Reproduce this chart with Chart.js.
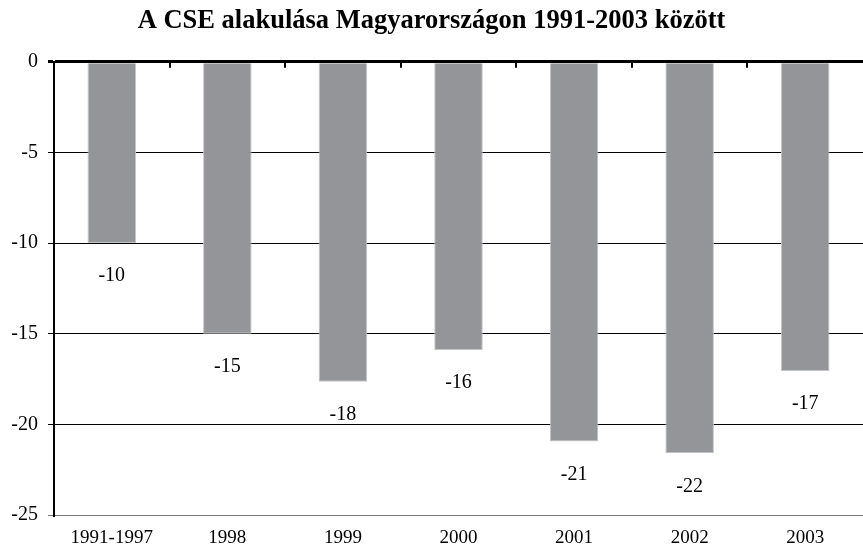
<!DOCTYPE html>
<html>
<head>
<meta charset="utf-8">
<script src="https://cdn.jsdelivr.net/npm/chart.js@4.4.0/dist/chart.umd.min.js"></script>
<style>
  html, body { margin: 0; padding: 0; background: #fff; }
  #wrap { width: 863px; height: 547px; }
</style>
</head>
<body>
<div id="wrap"><canvas id="chartId" width="863" height="547"></canvas></div>
<script>
const categories = ["1991-1997", "1998", "1999", "2000", "2001", "2002", "2003"];
const cseValues = [-10, -15, -17.65, -15.9, -20.95, -21.6, -17.05];
const valueLabels = ["-10", "-15", "-18", "-16", "-21", "-22", "-17"];
const yTicks = [0, -5, -10, -15, -20, -25];

const serif = "'Liberation Serif', 'Times New Roman', serif";

// tick marks on the zero line, between the categories
const zeroTicks = {
    id: "zeroTicks",
    afterDatasetsDraw(chart) {
        const x = chart.scales.x;
        const y = chart.scales.y;
        const ctx = chart.ctx;
        const top = y.getPixelForValue(0);
        const step = x.getPixelForValue(1) - x.getPixelForValue(0);
        ctx.save();
        ctx.strokeStyle = "#000";
        ctx.lineWidth = 2;
        for (let i = 1; i < categories.length; i++) {
            let px = Math.round(x.getPixelForValue(i) - step / 2);
            ctx.beginPath();
            ctx.moveTo(px, top);
            ctx.lineTo(px, top + 6);
            ctx.stroke();
        }
        ctx.restore();
    }
};

// value labels under each bar
const barLabels = {
    id: "barLabels",
    afterDatasetsDraw(chart) {
        const ctx = chart.ctx;
        const meta = chart.getDatasetMeta(0);
        ctx.save();
        ctx.font = "20px " + serif;
        ctx.fillStyle = "#000";
        ctx.textAlign = "center";
        ctx.textBaseline = "middle";
        meta.data.forEach((bar, i) => {
            ctx.fillText(valueLabels[i], bar.x, bar.y + 33);
        });
        ctx.restore();
    }
};

var chrt = document.getElementById("chartId").getContext("2d");
var chartId = new Chart(chrt, {
    type: 'bar',
    data: {
        labels: categories,
        datasets: [{
            label: "CSE",
            data: cseValues,
            backgroundColor: '#939598',
            borderColor: '#c4c5c7',
            borderWidth: 1,
            barPercentage: 0.42,
            categoryPercentage: 1.0,
        }],
    },
    options: {
        responsive: false,
        animation: false,
        layout: { padding: { left: 0, right: 0, top: 0, bottom: 0 } },
        plugins: {
            legend: { display: false },
            tooltip: { enabled: false },
            title: {
                display: true,
                text: "A CSE alakulása Magyarországon 1991-2003 között",
                color: "#000",
                font: { family: serif, size: 26.5, weight: 'bold' },
                padding: { top: 5, bottom: 25 },
            },
        },
        scales: {
            x: {
                position: 'bottom',
                grid: { display: false, drawTicks: false },
                border: { display: false },
                ticks: {
                    color: "#000",
                    padding: 12,
                    maxRotation: 0,
                    autoSkip: false,
                    font: { family: serif, size: 19 },
                },
                afterFit(scale) { scale.height = 32; },
            },
            y: {
                min: -25,
                max: 0,
                afterBuildTicks(scale) {
                    scale.ticks = yTicks.map(v => ({ value: v }));
                },
                grid: {
                    tickLength: 6,
                    color(ctx) {
                        return ctx.tick && ctx.tick.value === -25 ? '#777' : '#000';
                    },
                    lineWidth(ctx) {
                        return ctx.tick && ctx.tick.value === 0 ? 3 : 1;
                    },
                },
                border: { display: true, color: '#000', width: 2 },
                ticks: {
                    color: "#000",
                    padding: 10,
                    font: { family: serif, size: 20 },
                },
                afterFit(scale) { scale.width = 54; },
            },
        },
    },
    plugins: [zeroTicks, barLabels],
});
</script>
</body>
</html>
